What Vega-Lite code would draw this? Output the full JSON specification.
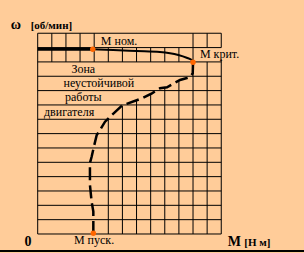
{
  "$schema": "https://vega.github.io/schema/vega-lite/v6.json",
  "width": 304,
  "height": 253,
  "autosize": "none",
  "padding": 0,
  "background": "#FFCC99",
  "config": {"view": {"stroke": null}, "text": {"font": "'Liberation Serif', 'DejaVu Serif', serif"}},
  "datasets": {
    "hlines": [
      {"w": 0, "m": 0, "m2": 13}, {"w": 1, "m": 0, "m2": 13}, {"w": 2, "m": 0, "m2": 13},
      {"w": 3, "m": 0, "m2": 13}, {"w": 4, "m": 0, "m2": 13}, {"w": 5, "m": 0, "m2": 13},
      {"w": 6, "m": 0, "m2": 13}, {"w": 7, "m": 0, "m2": 13}, {"w": 8, "m": 0, "m2": 13},
      {"w": 9, "m": 0, "m2": 13}, {"w": 10, "m": 0, "m2": 13}, {"w": 11, "m": 0, "m2": 13},
      {"w": 12, "m": 0, "m2": 13}, {"w": 13, "m": 0, "m2": 13}, {"w": 14, "m": 0, "m2": 13}
    ],
    "vlines": [
      {"m": 0, "w": 0, "w2": 14},
      {"m": 1, "w": 12, "w2": 14}, {"m": 2, "w": 12, "w2": 14}, {"m": 3, "w": 12, "w2": 14}, {"m": 4, "w": 12, "w2": 14},
      {"m": 5, "w": 12, "w2": 13}, {"m": 6, "w": 12, "w2": 13}, {"m": 7, "w": 12, "w2": 13},
      {"m": 8, "w": 12, "w2": 13}, {"m": 9, "w": 12, "w2": 13}, {"m": 10, "w": 12, "w2": 13},
      {"m": 5, "w": 0, "w2": 8.06}, {"m": 6, "w": 0, "w2": 8.95}, {"m": 7, "w": 0, "w2": 9.32},
      {"m": 8, "w": 0, "w2": 9.8}, {"m": 9, "w": 0, "w2": 10.25}, {"m": 10, "w": 0, "w2": 10.72},
      {"m": 11, "w": 0, "w2": 14},
      {"m": 12, "w": 0, "w2": 12}, {"m": 12, "w": 13, "w2": 14},
      {"m": 13, "w": 0, "w2": 12.18}, {"m": 13, "w": 13, "w2": 14}
    ],
    "base": [
      {"i": 0, "m": 0, "w": 12.88}, {"i": 1, "m": 3.9, "w": 12.88}
    ],
    "rise": [
      {"i": 0, "m": 3.9, "w": 12.88}, {"i": 1, "m": 5.35, "w": 12.83}, {"i": 2, "m": 7.01, "w": 12.76},
      {"i": 3, "m": 8.66, "w": 12.69}, {"i": 4, "m": 9.96, "w": 12.48}, {"i": 5, "m": 10.55, "w": 12.29},
      {"i": 6, "m": 10.91, "w": 12.13}, {"i": 7, "m": 11.0, "w": 11.97}
    ],
    "unstable": [
      {"i": 0, "m": 11.0, "w": 11.97}, {"i": 1, "m": 10.98, "w": 11.21}, {"i": 2, "m": 10.81, "w": 10.97},
      {"i": 3, "m": 10.57, "w": 10.88}, {"i": 4, "m": 10.08, "w": 10.74}, {"i": 5, "m": 9.72, "w": 10.55},
      {"i": 6, "m": 9.16, "w": 10.23}, {"i": 7, "m": 8.66, "w": 10.16}, {"i": 8, "m": 8.09, "w": 9.81},
      {"i": 9, "m": 7.37, "w": 9.46}, {"i": 10, "m": 6.3, "w": 9.07}, {"i": 11, "m": 5.95, "w": 8.93},
      {"i": 12, "m": 5.12, "w": 8.18}, {"i": 13, "m": 4.77, "w": 7.83}, {"i": 14, "m": 4.41, "w": 7.25},
      {"i": 15, "m": 4.18, "w": 6.9}, {"i": 16, "m": 4.01, "w": 6.21}, {"i": 17, "m": 3.82, "w": 5.39},
      {"i": 18, "m": 3.7, "w": 4.95}, {"i": 19, "m": 3.7, "w": 3.91}, {"i": 20, "m": 3.7, "w": 3.42},
      {"i": 21, "m": 3.82, "w": 2.25}, {"i": 22, "m": 3.94, "w": 1.56}, {"i": 23, "m": 3.94, "w": 0.28},
      {"i": 24, "m": 3.94, "w": 0.05}
    ],
    "dots": [
      {"m": 3.9, "w": 12.88}, {"m": 11.0, "w": 11.97}, {"m": 3.94, "w": 0.05}
    ],
    "labelsCenter": [
      {"m": 5.76, "w": 13.18, "t": "М ном."},
      {"m": 3.23, "w": 11.26, "t": "Зона"},
      {"m": 4.33, "w": 10.23, "t": "неустойчивой"},
      {"m": 3.23, "w": 9.27, "t": "работы"},
      {"m": 2.22, "w": 8.25, "t": "двигателя"},
      {"m": 3.99, "w": -0.73, "t": "М пуск."}
    ],
    "labelsLeft": [
      {"m": 11.49, "w": 12.24, "t": "М крит."}
    ],
    "boldBig": [
      {"m": -1.54, "w": 14.33, "t": "ω"},
      {"m": -0.69, "w": -0.84, "t": "0"},
      {"m": 13.92, "w": -0.87, "t": "М"}
    ],
    "boldSmall": [
      {"m": -0.5, "w": 14.3, "t": "[об/мин]"},
      {"m": 14.63, "w": -0.82, "t": "[Н м]"}
    ],
    "frame": [
      {"m": -2.67, "m2": 18.86, "w": -1.185}
    ]
  },
  "layer": [
    {
      "data": {"name": "hlines"},
      "mark": {"type": "rule", "color": "#000000", "strokeWidth": 1},
      "encoding": {
        "x": {"field": "m", "type": "quantitative", "scale": {"domain": [-2.67, 18.86], "nice": false, "zero": false}, "axis": null},
        "x2": {"field": "m2"},
        "y": {"field": "w", "type": "quantitative", "scale": {"domain": [-1.325, 16.318], "nice": false, "zero": false}, "axis": null}
      }
    },
    {
      "data": {"name": "vlines"},
      "mark": {"type": "rule", "color": "#000000", "strokeWidth": 1},
      "encoding": {
        "x": {"field": "m", "type": "quantitative", "scale": {"domain": [-2.67, 18.86], "nice": false, "zero": false}, "axis": null},
        "y": {"field": "w", "type": "quantitative", "scale": {"domain": [-1.325, 16.318], "nice": false, "zero": false}, "axis": null},
        "y2": {"field": "w2"}
      }
    },
    {
      "data": {"name": "frame"},
      "mark": {"type": "rule", "color": "#000000", "strokeWidth": 2},
      "encoding": {
        "x": {"field": "m", "type": "quantitative", "scale": {"domain": [-2.67, 18.86], "nice": false, "zero": false}, "axis": null},
        "x2": {"field": "m2"},
        "y": {"field": "w", "type": "quantitative", "scale": {"domain": [-1.325, 16.318], "nice": false, "zero": false}, "axis": null}
      }
    },
    {
      "data": {"name": "base"},
      "mark": {"type": "line", "color": "#000000", "strokeWidth": 3},
      "encoding": {
        "x": {"field": "m", "type": "quantitative", "scale": {"domain": [-2.67, 18.86], "nice": false, "zero": false}, "axis": null},
        "y": {"field": "w", "type": "quantitative", "scale": {"domain": [-1.325, 16.318], "nice": false, "zero": false}, "axis": null},
        "order": {"field": "i", "type": "quantitative"}
      }
    },
    {
      "data": {"name": "rise"},
      "mark": {"type": "line", "color": "#000000", "strokeWidth": 2, "interpolate": "monotone"},
      "encoding": {
        "x": {"field": "m", "type": "quantitative", "scale": {"domain": [-2.67, 18.86], "nice": false, "zero": false}, "axis": null},
        "y": {"field": "w", "type": "quantitative", "scale": {"domain": [-1.325, 16.318], "nice": false, "zero": false}, "axis": null},
        "order": {"field": "i", "type": "quantitative"}
      }
    },
    {
      "data": {"name": "unstable"},
      "mark": {"type": "line", "color": "#000000", "strokeWidth": 2.5, "strokeDash": [13, 5]},
      "encoding": {
        "x": {"field": "m", "type": "quantitative", "scale": {"domain": [-2.67, 18.86], "nice": false, "zero": false}, "axis": null},
        "y": {"field": "w", "type": "quantitative", "scale": {"domain": [-1.325, 16.318], "nice": false, "zero": false}, "axis": null},
        "order": {"field": "i", "type": "quantitative"}
      }
    },
    {
      "data": {"name": "dots"},
      "mark": {"type": "circle", "color": "#FF6600", "opacity": 1, "size": 30},
      "encoding": {
        "x": {"field": "m", "type": "quantitative", "scale": {"domain": [-2.67, 18.86], "nice": false, "zero": false}, "axis": null},
        "y": {"field": "w", "type": "quantitative", "scale": {"domain": [-1.325, 16.318], "nice": false, "zero": false}, "axis": null}
      }
    },
    {
      "data": {"name": "labelsCenter"},
      "mark": {"type": "text", "font": "Liberation Serif", "fontSize": 12, "color": "#000000", "align": "center", "baseline": "alphabetic"},
      "encoding": {
        "x": {"field": "m", "type": "quantitative", "scale": {"domain": [-2.67, 18.86], "nice": false, "zero": false}, "axis": null},
        "y": {"field": "w", "type": "quantitative", "scale": {"domain": [-1.325, 16.318], "nice": false, "zero": false}, "axis": null},
        "text": {"field": "t", "type": "nominal"}
      }
    },
    {
      "data": {"name": "labelsLeft"},
      "mark": {"type": "text", "font": "Liberation Serif", "fontSize": 12, "color": "#000000", "align": "left", "baseline": "alphabetic"},
      "encoding": {
        "x": {"field": "m", "type": "quantitative", "scale": {"domain": [-2.67, 18.86], "nice": false, "zero": false}, "axis": null},
        "y": {"field": "w", "type": "quantitative", "scale": {"domain": [-1.325, 16.318], "nice": false, "zero": false}, "axis": null},
        "text": {"field": "t", "type": "nominal"}
      }
    },
    {
      "data": {"name": "boldBig"},
      "mark": {"type": "text", "font": "Liberation Serif", "fontSize": 14, "fontWeight": "bold", "color": "#000000", "align": "center", "baseline": "alphabetic"},
      "encoding": {
        "x": {"field": "m", "type": "quantitative", "scale": {"domain": [-2.67, 18.86], "nice": false, "zero": false}, "axis": null},
        "y": {"field": "w", "type": "quantitative", "scale": {"domain": [-1.325, 16.318], "nice": false, "zero": false}, "axis": null},
        "text": {"field": "t", "type": "nominal"}
      }
    },
    {
      "data": {"name": "boldSmall"},
      "mark": {"type": "text", "font": "Liberation Serif", "fontSize": 11, "fontWeight": "bold", "color": "#000000", "align": "left", "baseline": "alphabetic"},
      "encoding": {
        "x": {"field": "m", "type": "quantitative", "scale": {"domain": [-2.67, 18.86], "nice": false, "zero": false}, "axis": null},
        "y": {"field": "w", "type": "quantitative", "scale": {"domain": [-1.325, 16.318], "nice": false, "zero": false}, "axis": null},
        "text": {"field": "t", "type": "nominal"}
      }
    }
  ]
}
